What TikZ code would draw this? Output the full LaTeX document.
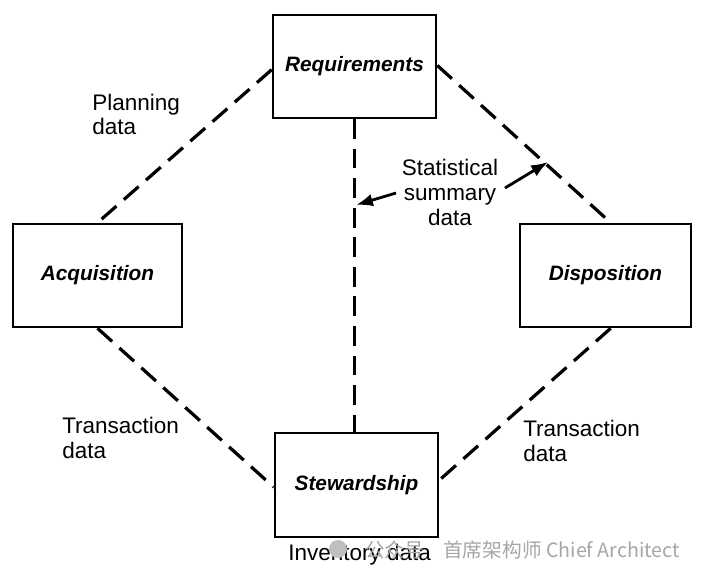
\documentclass[tikz,border=0pt]{standalone}
\usepackage{fontspec}
\setmainfont{Liberation Sans}
\newfontfamily\cjkfont{Noto Sans CJK SC}
\usetikzlibrary{calc,arrows.meta}
\tikzset{
  box/.style={draw, line width=1.8pt, fill=white, inner sep=0pt,
    font=\fontsize{14.8}{17}\selectfont\bfseries\itshape},
  link/.style={line width=2.3pt, dash pattern=on 14pt off 7pt},
  lbl/.style={font=\fontsize{16}{17.7}\selectfont, align=left, inner sep=0pt, anchor=base west},
  pointer/.style={line width=2pt, -{Latex[length=12pt,width=9pt]}},
  wm/.style={font=\cjkfont\fontsize{14}{16}\selectfont, text=black!35, inner sep=0pt, anchor=base west}
}
\begin{document}
\begin{tikzpicture}[x=0.025cm,y=-0.025cm]
\useasboundingbox (0,0) rectangle (706,578);
% boxes
\node[box, minimum width=4.075cm, minimum height=2.575cm] (req) at (354.5,66.5) {\raisebox{-2pt}{Requirements}};
\node[box, minimum width=4.225cm, minimum height=2.575cm] (acq) at (97.5,275.5) {Acquisition};
\node[box, minimum width=4.275cm, minimum height=2.575cm] (disp) at (605.5,275.5) {Disposition};
\node[box, minimum width=4.075cm, minimum height=2.6cm] (stew) at (356.5,485) {Stewardship};
% connectors
\draw[link] ($(req.north west)!0.53!(req.south west)$) -- (acq.north);
\draw[link] ($(req.north east)!0.49!(req.south east)$) -- ($(disp.north west)!0.53!(disp.north east)$);
\draw[link] (req.south) -- (req.south |- stew.north);
\draw[link] (acq.south) -- ($(stew.north west)!0.52!(stew.south west)$);
\draw[link] ($(disp.south west)!0.53!(disp.south east)$) -- ($(stew.north east)!0.455!(stew.south east)$);
% labels (base anchor = last line)
\node[lbl] (plan) at (92,135) {Planning\\data};
\node[lbl, align=center, anchor=base] (stat) at (450,225) {Statistical\\summary\\data};
\node[lbl] (tl) at (62,458) {Transaction\\data};
\node[lbl] (tr) at (523,461) {Transaction\\data};
\node[lbl] (inv) at (288,560) {Inventory data};
% pointers
\coordinate (a1s) at (396,193);
\coordinate (a1e) at (356,205);
\coordinate (a2s) at (505,188);
\coordinate (a2e) at (548,162);
\draw[pointer] (a1s) -- (a1e);
\draw[pointer] (a2s) -- (a2e);
% watermark
\fill[black!25] (338,549) circle (9);
\node[wm] (wm1) at (365,557) {公众号};
\node[wm] (wm2) at (443,557) {首席架构师 Chief Architect};
\end{tikzpicture}
\end{document}
